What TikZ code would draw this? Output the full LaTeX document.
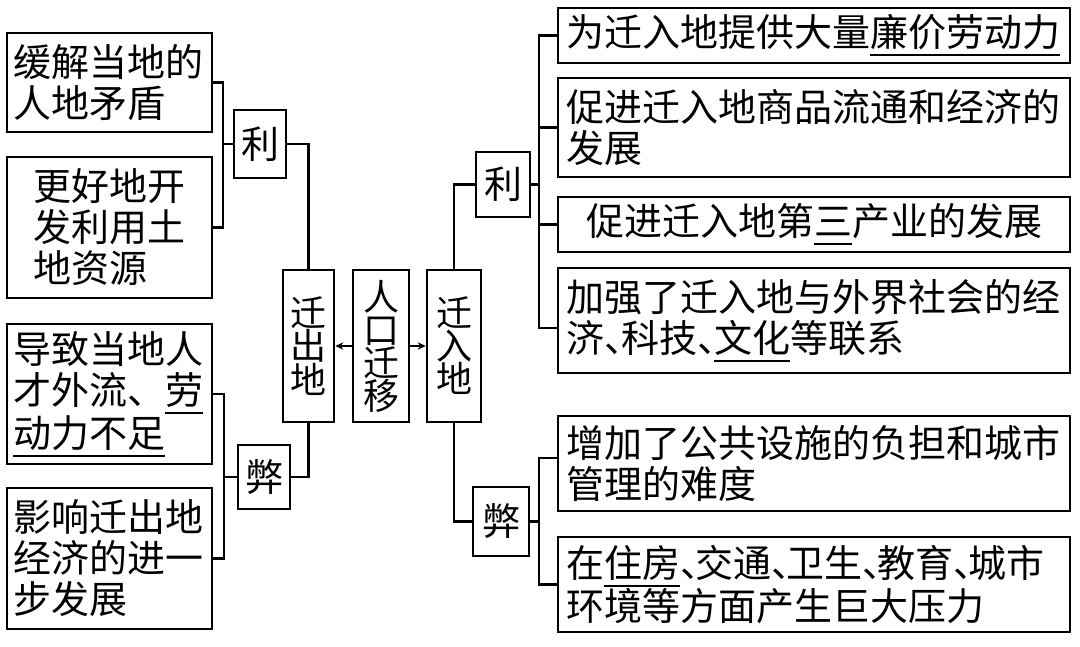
\documentclass[tikz,border=0pt]{standalone}
\usepackage{fontspec}
\setmainfont{Noto Sans CJK SC}
\usetikzlibrary{arrows.meta,calc}
\newcommand{\ulx}[1]{\leavevmode\setbox0=\hbox{#1}\rlap{\rule[-0.25em]{\wd0}{1.5pt}}\box0}
\newcommand{\dunA}{\makebox[0.45em][l]{、}}
\newcommand{\dunB}{\makebox[0.4em][l]{、}}
\begin{document}
\begin{tikzpicture}[x=0.75pt,y=-0.75pt,
  every node/.style={font=\fontsize{28.5pt}{30.75pt}\selectfont},
  box/.style={draw,line width=1.9pt,inner ysep=0pt,align=left},
  lbox/.style={box,minimum width=153.75pt,text width=144.75pt,inner xsep=4.5pt},
  rbox/.style={box,minimum width=384pt,text width=372pt,inner xsep=6pt},
  cbox/.style={box,inner sep=0pt},
  vbox/.style={draw,line width=1.9pt,inner sep=0pt,align=center,minimum height=114pt,
    font=\fontsize{27pt}{24.75pt}\selectfont},
  conn/.style={line width=1.9pt},
  arr/.style={line width=1.4pt,-{Stealth[length=6pt,width=5.5pt]}}]
\fill[white] (0,0) rectangle (1080,646);
\useasboundingbox (0,0) rectangle (1080,646);
% left boxes
\node[lbox,minimum height=74.25pt] (L1) at (109.5,82.5) {缓解当地的\\人地矛盾};
\node[box,minimum width=153.75pt,minimum height=105.75pt] (L2) at (109.5,227.5) {更好地开\\发利用土\\地资源};
\node[lbox,minimum height=105pt] (L3) at (109.5,394) {导致当地人\\才外流、\ulx{劳}\\\ulx{动力不足}};
\node[lbox,minimum height=105.75pt] (L4) at (109.5,558.5) {影响迁出地\\经济的进一\\步发展};
\node[cbox,minimum width=39pt,minimum height=51pt] (Lli) at (260,144) {利};
\node[cbox,minimum width=39pt,minimum height=48pt] (Lbi) at (264,477) {弊};
% centre
\node[vbox,minimum width=38.25pt] (Out) at (308.5,346) {迁\\出\\地};
\node[vbox,minimum width=42pt] (Mid) at (381,346) {人\\口\\迁\\移};
\node[vbox,minimum width=40.5pt] (In) at (454,346) {迁\\入\\地};
% right
\node[cbox,minimum width=40.5pt,minimum height=48.75pt] (Rli) at (503,184.5) {利};
\node[cbox,minimum width=42pt,minimum height=51.75pt] (Rbi) at (501,521.5) {弊};
\node[rbox,minimum height=41.25pt] (R1) at (814,35.5) {为迁入地提供大量\ulx{廉价劳动力}};
\node[rbox,minimum height=74.25pt] (R2) at (814,127.5) {促进迁入地商品流通和经济的\\发展};
\node[box,minimum width=384pt,minimum height=41.25pt] (R3) at (814,224.5) {促进迁入地第\ulx{三}产业的发展};
\node[rbox,minimum height=78.75pt] (R4) at (814,320.5) {加强了迁入地与外界社会的经\\济\dunA 科技\dunA\ulx{文化}等联系};
\node[rbox,minimum height=71.25pt] (R5) at (814,463.5) {增加了公共设施的负担和城市\\管理的难度};
\node[rbox,minimum height=71.25pt] (R6) at (814,584.5) {在\ulx{住房}\dunB 交通\dunB 卫生\dunB 教育\dunB 城市\\环境等方面产生巨大压力};
% bus coordinates
\coordinate (LbusA) at (223,0);
\coordinate (LbusB) at (224,0);
\coordinate (Rbus) at (539,0);
% left connectors
\draw[conn] (L1.east) -- (L1.east -| LbusA) -- (L2.east -| LbusA) -- (L2.east);
\draw[conn] (Lli.west) -- (Lli.west -| LbusA);
\draw[conn] (Lli.east) -| (Out.north);
\draw[conn] (L3.east) -- (L3.east -| LbusB) -- (L4.east -| LbusB) -- (L4.east);
\draw[conn] (Lbi.west) -- (Lbi.west -| LbusB);
\draw[conn] (Lbi.east) -| (Out.south);
% right connectors
\draw[conn] (In.north) |- (Rli.west);
\draw[conn] (In.south) |- (Rbi.west);
\draw[conn] (R1.west) -- (R1.west -| Rbus) -- ($(R4.west -| Rbus)+(0,7.5)$) -- ($(R4.west)+(0,7.5)$);
\draw[conn] (Rli.east) -- (Rli.east -| Rbus);
\draw[conn] (R2.west) -- (R2.west -| Rbus);
\draw[conn] (R3.west) -- (R3.west -| Rbus);
\draw[conn] ($(R5.west)+(0,-5.5)$) -- ($(R5.west -| Rbus)+(0,-5.5)$) -- (R6.west -| Rbus) -- (R6.west);
\draw[conn] (Rbi.east) -- (Rbi.east -| Rbus);
% arrows
\draw[arr] (Mid.west) -- (Out.east);
\draw[arr] (Mid.east) -- (In.west);
\end{tikzpicture}
\end{document}
